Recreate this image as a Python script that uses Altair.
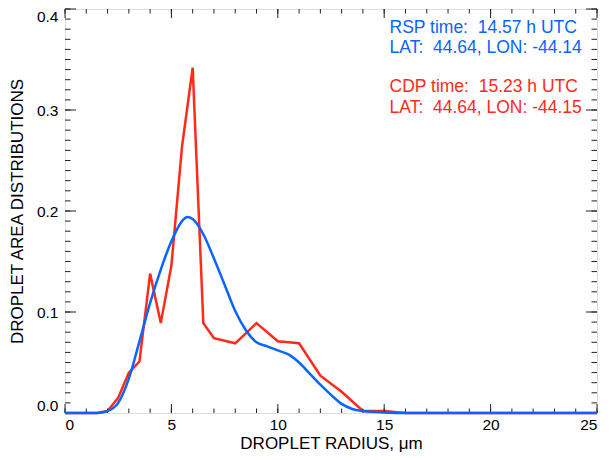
import pandas as pd
import altair as alt

# CDP droplet area distribution (red, piecewise linear)
cdp_r = [0, 0.5, 1, 1.5, 2, 2.5, 3, 3.5, 4, 4.5, 5, 5.5, 6, 6.5, 7,
         8, 9, 10, 11, 12, 13, 14, 15, 16, 18, 20, 22, 25]
cdp_v = [0, 0, 0, 0, 0.002, 0.015, 0.040, 0.051, 0.138, 0.089, 0.146, 0.264, 0.342, 0.089, 0.074,
         0.069, 0.089, 0.071, 0.069, 0.037, 0.021, 0.002, 0.002, 0, 0, 0, 0, 0]

# RSP retrieved distribution (blue, smooth)
rsp_r = [0, 1, 1.5, 2, 2.5, 3, 3.5, 4, 4.5, 5, 5.5, 5.75, 6, 6.5, 7, 7.5, 8, 8.5,
         9, 9.5, 10, 10.5, 11, 11.5, 12, 12.5, 13, 13.5, 14, 15, 16, 20, 25]
rsp_v = [0, 0, 0, 0.002, 0.010, 0.034, 0.071, 0.109, 0.142, 0.170, 0.190, 0.194, 0.192, 0.177,
         0.153, 0.127, 0.101, 0.082, 0.070, 0.066, 0.062, 0.058, 0.050, 0.039, 0.028, 0.018,
         0.009, 0.004, 0.002, 0.0005, 0, 0, 0]

x_major = [0, 5, 10, 15, 20, 25]
x_minor = list(range(0, 26))
y_major = [0.0, 0.1, 0.2, 0.3, 0.4]
y_minor = [i / 100 for i in range(41)]

notes = ["RSP time:\u00a0 14.57 h UTC", "LAT:\u00a0 44.64, LON: -44.14",
         "CDP time:\u00a0 15.23 h UTC", "LAT:\u00a0 44.64, LON: -44.15"]
note_y = [0.376, 0.356, 0.3175, 0.297]
note_c = ["#0a64ff", "#0a64ff", "#ff2a1a", "#ff2a1a"]

W, H = 532, 404
FONT = "Liberation Sans"
RED, BLUE = "#ff2a1a", "#0a64ff"
TICK = "#222"

xs = alt.Scale(domain=[0, 25], nice=False, zero=False)
ys = alt.Scale(domain=[0, 0.4], nice=False)

xax = alt.Axis(values=x_major, format="d", ticks=False, domain=False, grid=False,
               labelPadding=4, labelFontSize=15.5, titleFontSize=17,
               titleBaseline="alphabetic", titleY=35,
               labelFont=FONT, titleFont=FONT, labelColor="black",
               titleColor="black", titleFontWeight="normal")
yax = alt.Axis(values=y_major, format=".1f", ticks=False, domain=False, grid=False,
               labelPadding=7, labelFontSize=15.5, titleFontSize=17, labelFlush=True,
               labelFont=FONT, titleFont=FONT, labelColor="black",
               titleColor="black", titleFontWeight="normal", titlePadding=10)
XT = "DROPLET RADIUS, \u03bcm"
YT = "DROPLET AREA DISTRIBUTIONS"


def X(f):
    return alt.X(f, scale=xs, axis=xax, title=XT)


def Y(f):
    return alt.Y(f, scale=ys, axis=yax, title=YT)


cdp = pd.DataFrame({"r": cdp_r, "v": cdp_v})
rsp = pd.DataFrame({"r": rsp_r, "v": rsp_v})

red = alt.Chart(cdp).mark_line(color=RED, strokeWidth=2.5).encode(x=X("r:Q"), y=Y("v:Q"))

blue = alt.Chart(rsp).mark_line(color=BLUE, strokeWidth=2.5, interpolate="monotone").encode(
    x=X("r:Q"), y=Y("v:Q")
)


def xticks(vals, ln):
    d = pd.DataFrame({"r": vals})
    bot = alt.Chart(d).mark_rule(color=TICK, strokeWidth=1).encode(
        x=X("r:Q"), y=alt.value(H), y2=alt.value(H - ln))
    top = alt.Chart(d).mark_rule(color=TICK, strokeWidth=1).encode(
        x=X("r:Q"), y=alt.value(0), y2=alt.value(ln))
    return bot + top


def yticks(vals, ln):
    d = pd.DataFrame({"v": vals})
    lft = alt.Chart(d).mark_rule(color=TICK, strokeWidth=1).encode(
        y=Y("v:Q"), x=alt.value(0), x2=alt.value(ln))
    rgt = alt.Chart(d).mark_rule(color=TICK, strokeWidth=1).encode(
        y=Y("v:Q"), x=alt.value(W), x2=alt.value(W - ln))
    return lft + rgt


text = alt.Chart(pd.DataFrame({"t": notes, "v": note_y, "c": note_c, "r": [15.25] * 4})).mark_text(
    align="left", baseline="alphabetic", fontSize=17.5, font=FONT
).encode(
    x=X("r:Q"),
    y=Y("v:Q"),
    text="t:N",
    color=alt.Color("c:N", scale=None),
)

chart = (
    alt.layer(red, xticks(x_minor, 4.5), xticks(x_major, 9), yticks(y_minor, 5.5),
              yticks(y_major, 11), blue, text)
    .properties(width=W, height=H, autosize=alt.AutoSizeParams(type="none"),
                padding={"left": 57, "top": 1, "right": 9, "bottom": 39})
    .configure_view(stroke=TICK, strokeWidth=1)
    .configure(background="white")
)

chart.save("out.html", embed_options={"renderer": "svg", "actions": False})
